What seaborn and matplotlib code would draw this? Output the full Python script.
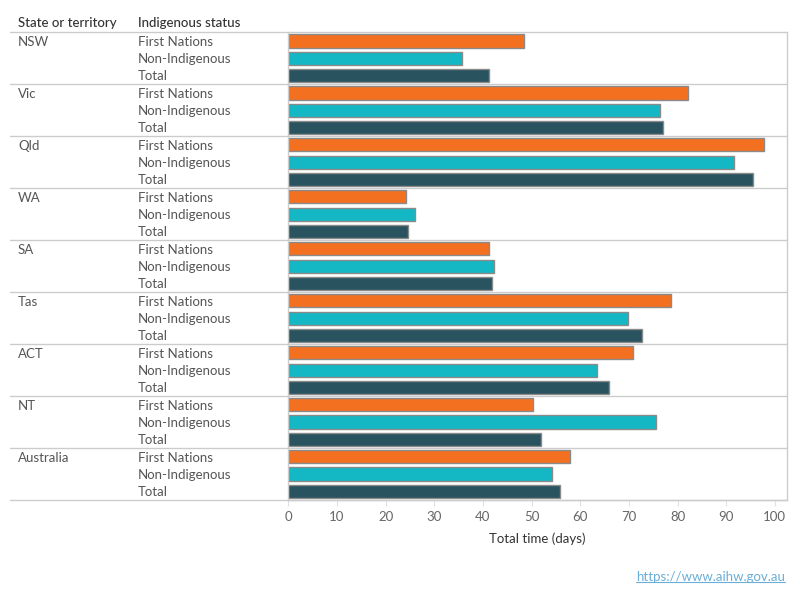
import numpy as np
import pandas as pd
import matplotlib
matplotlib.use("Agg")
import matplotlib.pyplot as plt
import matplotlib.transforms as mtransforms
import seaborn as sns

states = ["NSW", "Vic", "Qld", "WA", "SA", "Tas", "ACT", "NT", "Australia"]
statuses = ["First Nations", "Non-Indigenous", "Total"]
first_nations = [48.4, 82.2, 97.7, 24.1, 41.2, 78.6, 70.8, 50.2, 58.0]
non_indigenous = [35.8, 76.4, 91.6, 26.0, 42.2, 69.9, 63.4, 75.5, 54.1]
total = [41.3, 77.1, 95.5, 24.7, 41.8, 72.8, 66.0, 52.0, 55.8]
colors = ["#F37021", "#14B8C4", "#28535F"]
ticks = list(range(0, 101, 10))

rows = []
for i, s in enumerate(states):
    for st, vals in zip(statuses, [first_nations, non_indigenous, total]):
        rows.append({"row": f"{s}|{st}", "state": s, "status": st, "days": vals[i]})
df = pd.DataFrame(rows)

sns.set_theme(style="white")
plt.rcParams["font.family"] = ["Lato", "DejaVu Sans"]

fig = plt.figure(figsize=(8, 6), dpi=100)
ax = fig.add_axes([288.3 / 800, 1 - 500 / 600, (787 - 288.3) / 800, (500 - 32.3) / 600])

sns.barplot(data=df, x="days", y="row", hue="status", order=df["row"].tolist(),
            hue_order=statuses, palette=colors, saturation=1, dodge=False, width=0.76,
            edgecolor="#8a8a8a", linewidth=1, legend=False, ax=ax)

ax.set_xlim(0, 102.5)
ax.set_ylim(len(df) - 0.5, -0.5)
ax.set_yticks([])
ax.set_ylabel("")
ax.set_xticks(ticks)
ax.set_xticklabels([str(t) for t in ticks], color="#666666", fontsize=9.5)
ax.tick_params(axis="x", length=4, width=0.8, color="#e0e0e0", pad=4, direction="out")
ax.xaxis.set_ticks_position("bottom")
ax.set_xlabel("Total time (days)", fontsize=9.5, color="#333333", labelpad=7)

ax.spines["top"].set_visible(False)
for side in ["left", "right", "bottom"]:
    ax.spines[side].set_color("#cccccc")
    ax.spines[side].set_linewidth(1)

trans = mtransforms.blended_transform_factory(ax.transAxes, ax.transData)
x_left = (10 - 288.3) / (787 - 288.3)
x_state = (18 - 288.3) / (787 - 288.3)
x_status = (138 - 288.3) / (787 - 288.3)

# group separators across the table and the plot
for g in range(len(states) + 1):
    y = g * 3 - 0.5
    ax.plot([x_left, 1], [y, y], transform=trans, color="#cccccc", lw=1, clip_on=False)

for i, r in df.iterrows():
    if r["status"] == "First Nations":
        ax.text(x_state, i + 0.05, r["state"], transform=trans, ha="left", va="center",
                fontsize=9.5, color="#555555")
    ax.text(x_status, i + 0.05, r["status"], transform=trans, ha="left", va="center",
            fontsize=9.5, color="#555555")

fig.text(18 / 800, 1 - 23 / 600, "State or territory", ha="left", va="center",
         fontsize=9.5, color="#333333", fontweight="medium")
fig.text(138 / 800, 1 - 23 / 600, "Indigenous status", ha="left", va="center",
         fontsize=9.5, color="#333333", fontweight="medium")

url = fig.text(785 / 800, 1 - 577 / 600, "https://www.aihw.gov.au", ha="right", va="center",
               fontsize=9.5, color="#6baed6")
fig.canvas.draw()
bb = url.get_window_extent().transformed(fig.transFigure.inverted())
fig.add_artist(plt.Line2D([bb.x0, bb.x1], [bb.y0 + 0.002, bb.y0 + 0.002],
                          transform=fig.transFigure, color="#6baed6", lw=0.8))

fig.savefig("out.png", dpi=100)
